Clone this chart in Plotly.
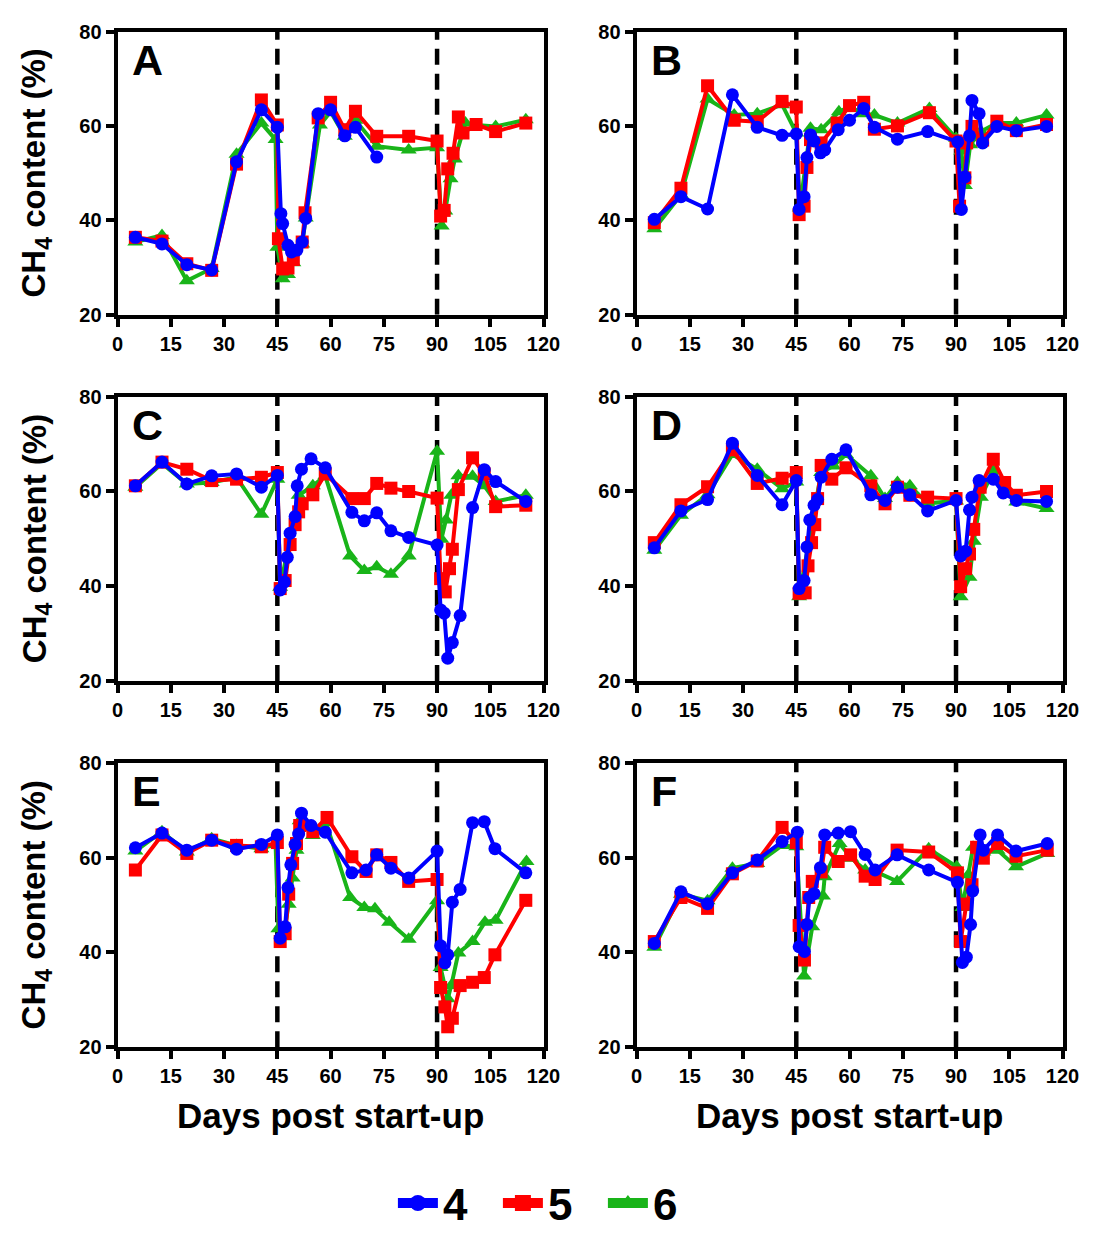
import plotly.graph_objects as go

# ---------------- data (days post start-up, CH4 content %) ----------------
A4_x = [5, 12.5, 19.5, 26.5, 33.5, 40.5, 45, 46, 46.5, 48, 49, 50.5, 52, 53, 56.5, 60, 64, 67, 73]
A4_y = [36.4, 35, 30.6, 29.5, 52.4, 63.4, 59.7, 41.4, 39.3, 34.7, 33.3, 33.7, 35.4, 40.4, 62.6, 63.4, 57.9, 59.7, 53.4]
A5_x = [5, 12.5, 19.5, 26.5, 33.5, 40.5, 45, 45.3, 46.5, 48, 49.5, 52, 52.8, 56.5, 60, 64, 67, 73, 82, 90, 91, 92, 93, 94.5, 96, 97.3, 101, 106.5, 115]
A5_y = [36.4, 35.6, 30.8, 29.4, 51.9, 65.5, 60.2, 36.1, 29.7, 29.9, 31.7, 35.4, 41.6, 61.7, 65, 59.2, 63.1, 57.8, 57.8, 56.8, 40.9, 42.1, 50.9, 54.2, 61.9, 58.5, 60.3, 58.8, 60.6]
A6_x = [5, 12.5, 19.5, 26.5, 33.5, 40.5, 44.5, 45, 46.5, 48, 49.5, 52, 53, 57, 60, 64, 67, 73, 82, 90, 91.3, 92.3, 93.8, 95, 98, 101, 106.5, 115]
A6_y = [35.4, 36.8, 27.2, 29.8, 54, 60.6, 57.1, 34.3, 27.6, 28.5, 31, 35, 40.5, 60.2, 63, 57.8, 61.2, 55.7, 54.9, 55.4, 38.8, 42, 48.8, 53, 60.6, 60.2, 59.9, 61.3]

B4_x = [5, 12.5, 20, 27, 34, 41, 45, 45.8, 47.2, 48, 49, 50, 51.8, 53, 56.8, 60, 64, 67, 73.5, 82, 90.5, 91.5, 92.5, 93.8, 94.5, 96.5, 97.5, 101.5, 107, 115.5]
B4_y = [40.2, 45, 42.4, 66.6, 59.7, 58, 58.3, 42.3, 45, 53.3, 58.1, 56.8, 54.3, 54.9, 59.2, 61.2, 63.7, 59.7, 57.2, 58.8, 56.6, 42.3, 49.2, 57.9, 65.4, 62.6, 56.4, 59.9, 59, 59.9]
B5_x = [5, 12.5, 20, 27.5, 34, 41, 45, 45.8, 47.2, 48, 49, 52, 56.5, 60, 64, 67, 73.5, 82.5, 90, 91, 92.5, 93, 94.5, 97.5, 101.5, 107, 115.5]
B5_y = [39.5, 46.8, 68.5, 61.2, 60.9, 65.2, 64, 41.2, 43, 51.2, 57.1, 56.4, 60.6, 64.3, 65, 59.3, 60, 62.8, 56.8, 43, 49, 56.4, 59.9, 57, 61, 59, 60.3]
B6_x = [5, 12.5, 20, 27.5, 34, 41, 45, 46, 49, 52, 57, 60, 64, 67, 73.5, 82.5, 90, 91.5, 92.5, 94, 97, 101.5, 107, 115.5]
B6_y = [38.2, 45.4, 65.7, 62.3, 62.6, 64.5, 58.5, 42.6, 59.5, 59.2, 63, 64, 62.6, 62.3, 60.6, 63.7, 57.4, 54.7, 47.4, 56, 58.8, 60.6, 60.6, 62.3]

C4_x = [5, 12.5, 19.5, 26.5, 33.5, 40.5, 45, 45.8, 47, 47.8, 48.6, 50, 50.6, 51.8, 54.5, 58.5, 66, 69.5, 73, 77, 82, 90, 91, 92, 93, 94.3, 96.5, 100, 103.3, 106.5, 115]
C4_y = [61.2, 66.2, 61.6, 63.3, 63.7, 60.9, 63.4, 39.2, 40.9, 46.1, 51.2, 54.7, 61.2, 64.7, 66.9, 65, 55.6, 53.8, 55.5, 51.7, 50.3, 48.7, 35, 34.3, 24.8, 28.1, 33.8, 56.6, 64.6, 62.1, 57.9]
C5_x = [5, 12.5, 19.5, 26.5, 33.5, 40.5, 45, 45.8, 47.2, 48.6, 50, 51, 52, 55, 58.5, 66, 69.5, 73, 77, 82, 90, 91, 92.3, 93.5, 94.3, 96, 100, 103.3, 106.5, 115]
C5_y = [61.2, 66.2, 64.7, 62.3, 62.6, 63, 64, 39.5, 41.2, 48.8, 53, 55.7, 57.4, 59.3, 63.7, 58.5, 58.5, 61.7, 60.7, 60, 58.6, 41.6, 38.8, 43.7, 47.8, 60.4, 67.1, 63.7, 56.8, 57.1]
C6_x = [5, 12.5, 19.5, 26.5, 33.5, 40.5, 45, 45.8, 51, 55, 58.5, 65.5, 69.5, 73, 77, 82, 90, 91.2, 92.5, 94, 96, 100, 103.3, 106.5, 115]
C6_y = [60.9, 65.9, 61.6, 61.9, 63, 55.2, 62.6, 39.8, 59.2, 61.2, 63.3, 46.4, 43.3, 44.1, 42.5, 46.4, 68.5, 49.9, 54, 59.2, 63.3, 63.2, 61.2, 57.9, 59.2]

D4_x = [5, 12.5, 20, 27, 34, 41, 45, 45.8, 47.2, 48, 48.8, 50, 51, 52, 55, 59, 66, 70, 73.5, 77, 82, 90, 91.3, 92.7, 93.8, 94.5, 96.5, 100.5, 103.3, 107, 115.5]
D4_y = [48.1, 55.9, 58.3, 70.2, 63.4, 57.2, 62.3, 39.5, 41.2, 48.3, 54, 57.1, 58.3, 63, 66.8, 68.8, 59.3, 58.1, 60.9, 59.3, 55.9, 58.1, 46.4, 47.4, 56.1, 58.8, 62.3, 62.6, 59.7, 58.1, 57.9]
D5_x = [5, 12.5, 20, 27, 34, 41, 45, 45.8, 47.5, 48.3, 49.3, 50.2, 51, 52, 55, 59, 66, 70, 73.5, 77, 82, 90, 91.3, 92.7, 93.8, 95, 96.8, 100.5, 103.7, 107, 115.5]
D5_y = [49.2, 57.2, 61, 68.8, 61.7, 62.8, 64, 38.5, 38.6, 44.3, 49.2, 53, 58.5, 65.5, 62.6, 65, 61.2, 57.4, 60.9, 59.2, 58.8, 58.5, 39.9, 43.7, 46.8, 52, 60.9, 66.8, 61.9, 59.2, 60]
D6_x = [5, 12.5, 20, 27, 34, 41, 45, 45.8, 52, 55.5, 59, 66, 70, 73.5, 77, 82, 90, 91.3, 93.8, 95, 97, 100.5, 103.7, 107, 115.5]
D6_y = [47.6, 55, 59.3, 67.8, 64.7, 60.6, 62, 37.8, 64, 65.4, 67.8, 63.3, 58.5, 61.9, 61.2, 57.5, 58, 37.8, 41.9, 49.5, 58.8, 64.3, 60.2, 57.8, 56.4]

E4_x = [5, 12.5, 19.5, 26.5, 33.5, 40.5, 45, 45.8, 47.2, 48, 48.8, 50, 51, 51.8, 54.5, 58.5, 66, 70, 73, 77, 82, 90, 91, 92.2, 93, 94.3, 96.5, 100, 103.3, 106.3, 115]
E4_y = [62.1, 65.2, 61.6, 63.7, 61.8, 62.8, 64.8, 43, 45.4, 53.7, 58.5, 62.8, 65, 69.4, 66.8, 65.4, 56.8, 57.4, 60.6, 57.8, 55.7, 61.4, 41.4, 37.8, 39.5, 50.6, 53.3, 67.4, 67.6, 61.9, 56.8]
E5_x = [5, 12.5, 19.5, 26.5, 33.5, 40.5, 45, 45.8, 47.2, 48.2, 49.3, 50.4, 51.3, 55, 59, 66, 70, 73, 77, 82, 90, 91, 92.2, 93, 94.3, 96.5, 100, 103.3, 106.3, 115]
E5_y = [57.4, 64.8, 60.9, 63.7, 62.6, 62.3, 63.2, 42.3, 44, 52.3, 58.8, 63, 66.8, 65.5, 68.5, 60.2, 57.1, 60.6, 59, 55, 55.4, 32.6, 28.5, 24.3, 26.1, 33, 33.7, 34.7, 39.5, 51]
E6_x = [5, 12.5, 19.5, 26.5, 33.5, 40.5, 44.5, 45.3, 46.8, 48.2, 49.3, 50.4, 51.3, 55, 58.7, 65.5, 69.5, 72.5, 76.5, 82, 90, 91, 93, 94, 96, 100, 103.5, 106.5, 115.2]
E6_y = [61.4, 65.5, 61.2, 64, 62.6, 61.9, 62.8, 45, 43.3, 50.2, 55.7, 61.6, 67.8, 64.7, 67.4, 51.6, 49.5, 49.2, 46.4, 42.8, 50.9, 36.8, 30.2, 33, 39.9, 42.3, 46.4, 46.8, 59.2]

F4_x = [5, 12.5, 20, 27, 34, 41, 45.3, 45.8, 47.3, 48, 48.7, 50, 51.8, 53, 56.8, 60.3, 64.4, 67.2, 73.4, 82.3, 90.4, 91.8, 92.9, 94.1, 94.7, 96.8, 97.7, 101.7, 106.9, 115.7]
F4_y = [41.9, 52.8, 50.3, 56.8, 59.5, 63.4, 65.4, 41.2, 40.2, 45.9, 51.6, 52.4, 57.9, 64.8, 65.2, 65.5, 60.7, 57.4, 60.6, 57.4, 54.8, 37.9, 39, 45.9, 53, 64.8, 61.6, 64.8, 61.4, 63]
F5_x = [5, 12.5, 20, 27, 34, 41, 45, 45.8, 47.3, 48.5, 49.5, 52, 53, 56.8, 60.3, 64.4, 67.2, 73.4, 82.3, 90.4, 91.3, 92.9, 94.5, 95.8, 97.7, 101.7, 106.9, 115.7]
F5_y = [42.3, 51.6, 49.3, 56.6, 59.3, 66.4, 63.2, 45.7, 38.4, 51.6, 55, 57, 62.2, 59.2, 60.6, 56.1, 55.4, 61.6, 61.2, 56.8, 42.3, 50.2, 54.3, 62.2, 59.9, 63, 60.3, 61.6]
F6_x = [5, 12.5, 20, 27, 34, 41, 45, 47.2, 49.5, 52.5, 53, 57.2, 60.5, 64.4, 67.2, 73.4, 82.3, 90.2, 91.8, 93.5, 94.8, 97.7, 101.7, 106.9, 115.7]
F6_y = [41.1, 52.3, 50.9, 57.8, 58.8, 62.6, 62.3, 35, 45.4, 51.9, 56, 63, 59.9, 57.4, 57.1, 55, 61.9, 58.1, 49.5, 56.4, 62.2, 61.2, 61.6, 58.1, 60.9]

panel_letters = ["A", "B", "C", "D", "E", "F"]
series_names = ["4", "5", "6"]
x_ticks = [0, 15, 30, 45, 60, 75, 90, 105, 120]
y_ticks = [20, 40, 60, 80]
phase_days = [45, 90]

panels = {
    "A": [(A4_x, A4_y), (A5_x, A5_y), (A6_x, A6_y)],
    "B": [(B4_x, B4_y), (B5_x, B5_y), (B6_x, B6_y)],
    "C": [(C4_x, C4_y), (C5_x, C5_y), (C6_x, C6_y)],
    "D": [(D4_x, D4_y), (D5_x, D5_y), (D6_x, D6_y)],
    "E": [(E4_x, E4_y), (E5_x, E5_y), (E6_x, E6_y)],
    "F": [(F4_x, F4_y), (F5_x, F5_y), (F6_x, F6_y)],
}

# ---------------- styles ----------------
W, H = 1103, 1239
FONT = "Liberation Sans, Arial, sans-serif"
colors = {"4": "#0000FF", "5": "#FF0000", "6": "#19B419"}
symbols = {"4": "circle", "5": "square", "6": "triangle-up"}
msize = {"4": 13, "5": 13, "6": 14}

col_px = [(114, 549), (644, 1079)]
row_px = [(21, 311), (395, 686), (770, 1061)]


def px_x(p):
    return p / W


def px_y(p):
    return 1 - p / H


fig = go.Figure()
layout = {}
annotations = []
shapes = []

for i, letter in enumerate(panel_letters):
    r, c = divmod(i, 2)
    n = i + 1
    xa = "x" if n == 1 else f"x{n}"
    ya = "y" if n == 1 else f"y{n}"
    xd = [px_x(col_px[c][0]), px_x(col_px[c][1])]
    yd = [px_y(row_px[r][1]), px_y(row_px[r][0])]
    common = dict(showline=True, linewidth=4, linecolor="black", mirror=True,
                  ticks="outside", ticklen=8, tickwidth=4, tickcolor="black",
                  showgrid=False, zeroline=False,
                  tickfont=dict(family=FONT, size=20, color="black", weight="bold"))
    layout["xaxis" if n == 1 else f"xaxis{n}"] = dict(
        domain=xd, range=[0, 120], tickvals=x_ticks, anchor=ya, **common)
    layout["yaxis" if n == 1 else f"yaxis{n}"] = dict(
        domain=yd, range=[20, 80], tickvals=y_ticks, anchor=xa, **common)

    # traces: draw 6 first, then 5, then 4 on top
    for k in [2, 1, 0]:
        name = series_names[k]
        xs, ys = panels[letter][k]
        fig.add_trace(go.Scatter(
            x=xs, y=ys, mode="lines+markers", name=name,
            xaxis=xa, yaxis=ya, legendgroup=name, showlegend=False,
            line=dict(color=colors[name], width=4),
            marker=dict(symbol=symbols[name], size=msize[name], color=colors[name]),
            cliponaxis=False,
        ))

    for d in phase_days:
        shapes.append(dict(type="line", xref=xa, yref=ya, x0=d, x1=d, y0=20, y1=80,
                           line=dict(color="black", width=4.5, dash="16px,9px"),
                           layer="below"))

    annotations.append(dict(text=f"<b>{letter}</b>", xref=xa, yref=ya, x=3.6, y=74,
                            xanchor="left", yanchor="middle", showarrow=False,
                            font=dict(family=FONT, size=43, color="black")))

# legend entries (bigger keys, as in the reference)
for k, name in enumerate(series_names):
    fig.add_trace(go.Scatter(
        x=[None], y=[None], mode="lines+markers", name=name, legendgroup=name,
        legendrank=k + 1, showlegend=True,
        line=dict(color=colors[name], width=10),
        marker=dict(symbol=symbols[name], size=23, color=colors[name]),
    ))

# y titles
for r in range(3):
    yc = px_y((row_px[r][0] + row_px[r][1]) / 2)
    annotations.append(dict(text="<b>CH<sub>4</sub> content (%)</b>", xref="paper", yref="paper",
                            x=px_x(31), y=yc, xanchor="center", yanchor="middle",
                            textangle=-90, showarrow=False,
                            font=dict(family=FONT, size=33, color="black")))
# x titles
for c in range(2):
    xc = px_x((col_px[c][0] + col_px[c][1]) / 2)
    annotations.append(dict(text="<b>Days post start-up</b>", xref="paper", yref="paper",
                            x=xc, y=px_y(1131), xanchor="center", yanchor="middle",
                            showarrow=False, font=dict(family=FONT, size=35, color="black")))

fig.update_layout(
    width=W, height=H,
    margin=dict(l=0, r=0, t=0, b=0),
    paper_bgcolor="white", plot_bgcolor="white",
    shapes=shapes, annotations=annotations,
    showlegend=True,
    legend=dict(orientation="h", x=px_x(556), y=px_y(1221), xanchor="center", yanchor="middle",
                font=dict(family=FONT, size=44, color="black", weight="bold"),
                itemwidth=40, entrywidth=50, entrywidthmode="pixels",
                traceorder="normal", bgcolor="rgba(0,0,0,0)"),
    **layout,
)

fig.write_html("out.html")
